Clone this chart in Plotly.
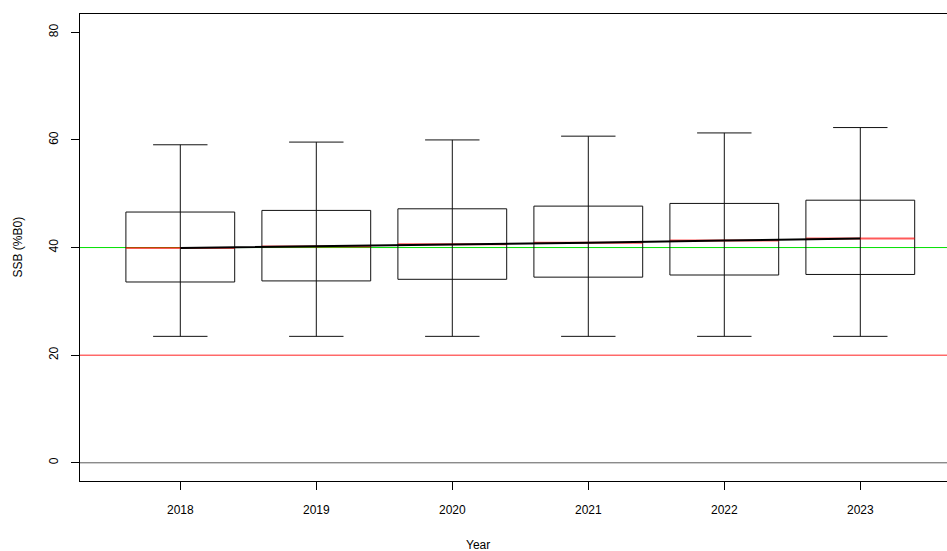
import plotly.graph_objects as go

# SSB (%B0) projection summaries
years = ["2018", "2019", "2020", "2021", "2022", "2023"]
whisker_low = [23.5, 23.5, 23.5, 23.5, 23.5, 23.5]
box_low = [33.6, 33.8, 34.1, 34.5, 34.9, 35.0]
median = [39.9, 40.2, 40.6, 40.9, 41.3, 41.7]
box_high = [46.6, 46.9, 47.2, 47.7, 48.2, 48.8]
whisker_high = [59.1, 59.6, 60.0, 60.7, 61.3, 62.3]

ref_levels = [0, 20, 40]
ref_colors = ["#5a5a5a", "#ff2020", "#00e000"]

y_ticks = [0, 20, 40, 60, 80]

BOX_HALF = 0.4
CAP_HALF = 0.2
FONT = "Liberation Sans, Arial, sans-serif"

pos = list(range(1, len(years) + 1))

fig = go.Figure()

# reference lines across the plot
for lvl, col in zip(ref_levels, ref_colors):
    fig.add_hline(y=lvl, line=dict(color=col, width=1), layer="below")

# whiskers, caps, boxes as one outline trace
xs, ys = [], []
for x, lo, q1, q3, hi in zip(pos, whisker_low, box_low, box_high, whisker_high):
    xs += [x, x, None]
    ys += [lo, hi, None]
    xs += [x - CAP_HALF, x + CAP_HALF, None, x - CAP_HALF, x + CAP_HALF, None]
    ys += [lo, lo, None, hi, hi, None]
    xs += [x - BOX_HALF, x + BOX_HALF, x + BOX_HALF, x - BOX_HALF, x - BOX_HALF, None]
    ys += [q1, q1, q3, q3, q1, None]
fig.add_trace(go.Scatter(x=xs, y=ys, mode="lines",
                         line=dict(color="#111111", width=1), hoverinfo="skip"))

# red median bars
mx, my = [], []
for x, m in zip(pos, median):
    mx += [x - BOX_HALF, x + BOX_HALF, None]
    my += [m, m, None]
fig.add_trace(go.Scatter(x=mx, y=my, mode="lines",
                         line=dict(color="rgba(255,0,0,0.65)", width=2), hoverinfo="skip"))

# median trajectory
fig.add_trace(go.Scatter(x=pos, y=median, mode="lines",
                         line=dict(color="black", width=2)))

fig.update_layout(
    width=947, height=551,
    margin=dict(l=80, r=0, t=14, b=70),
    plot_bgcolor="white", paper_bgcolor="white",
    showlegend=False,
    font=dict(family=FONT, size=12, color="black"),
    xaxis=dict(
        range=[0.2625, 6.6375], tickvals=pos, ticktext=years,
        showgrid=False, zeroline=False,
        showline=True, mirror=True, linecolor="black", linewidth=1,
        ticks="outside", ticklen=8, tickcolor="black", ticklabelstandoff=10,
    ),
    yaxis=dict(
        range=[-3.38, 83.4], tickvals=y_ticks, tickangle=-90,
        showgrid=False, zeroline=False,
        showline=True, linecolor="black", linewidth=1,
        ticks="outside", ticklen=8, tickcolor="black", ticklabelstandoff=8,
    ),
    annotations=[
        dict(text="Year", x=(478 - 80) / 867, y=-0.138, xref="paper", yref="paper",
             showarrow=False, xanchor="center", yanchor="middle", font=dict(size=12)),
        dict(text="SSB (%B0)", x=-63 / 867, y=0.5, xref="paper", yref="paper",
             showarrow=False, textangle=-90, xanchor="center", yanchor="middle",
             font=dict(size=12)),
    ],
)

# drop the default page margin so the figure sits at the window corner
fig.write_html("out.html", config={"displayModeBar": False},
               post_script="document.body.style.margin='0';document.body.style.overflow='hidden';")
